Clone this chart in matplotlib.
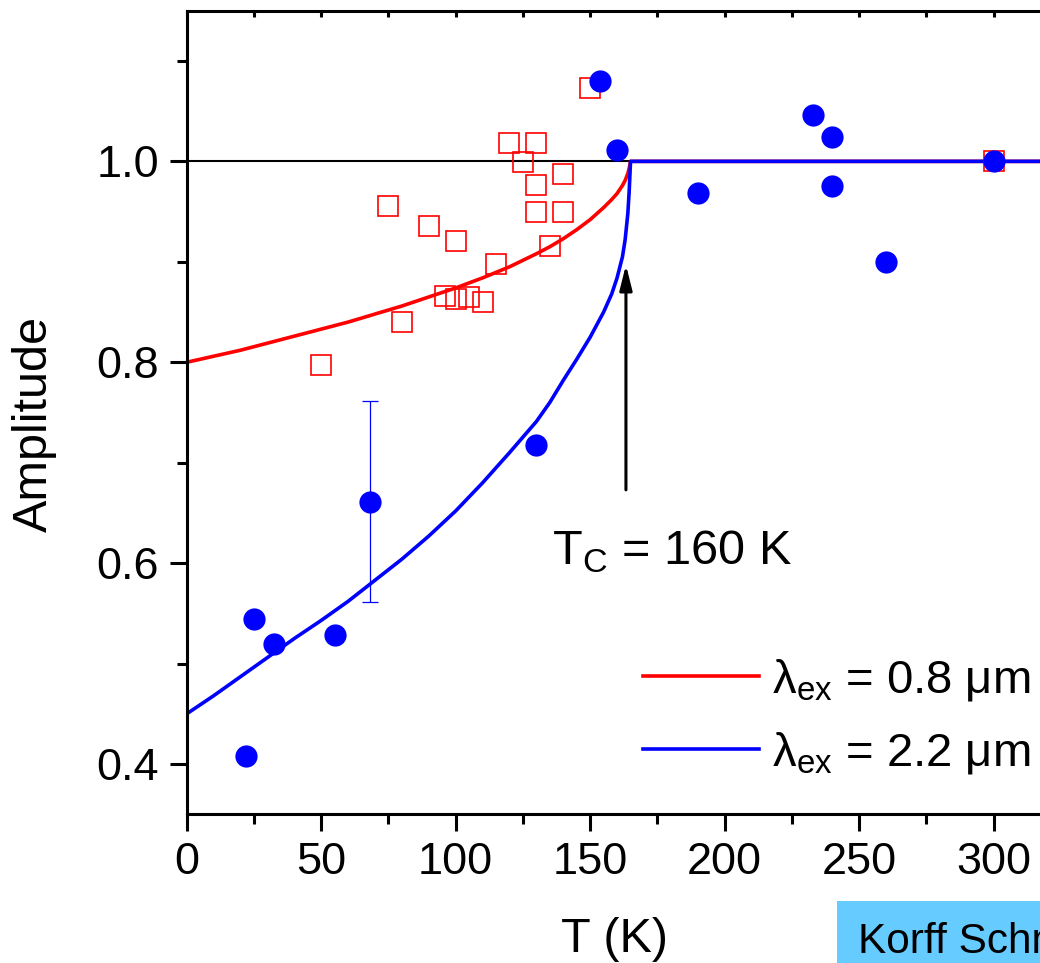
import numpy as np
import matplotlib
matplotlib.use("Agg")
import matplotlib.pyplot as plt
from matplotlib.ticker import MultipleLocator, FormatStrFormatter

plt.rcParams["font.family"] = ["Liberation Sans", "DejaVu Sans"]
plt.rcParams["mathtext.fontset"] = "custom"
plt.rcParams["mathtext.rm"] = "Liberation Sans"

BLUE = "#0000ff"
RED = "#ff0000"
BOX = "#66ccff"

# measured points, lambda_ex = 2.2 um (filled circles)
blue_T = [22, 25, 32.5, 55, 68, 130, 153.5, 160, 190, 233, 240, 240, 260, 300]
blue_A = [0.408, 0.544, 0.520, 0.529, 0.661, 0.718, 1.080, 1.011, 0.969,
          1.046, 1.024, 0.975, 0.900, 1.000]
blue_err = [0, 0, 0, 0, 0.1, 0, 0, 0, 0, 0, 0, 0, 0, 0]

# measured points, lambda_ex = 0.8 um (open squares)
red_T = [50, 75, 80, 90, 96, 100, 100, 105, 110, 115, 120, 125, 130, 130,
         130, 135, 140, 140, 150, 300]
red_A = [0.797, 0.956, 0.840, 0.936, 0.866, 0.921, 0.863, 0.865, 0.860,
         0.898, 1.018, 0.999, 1.018, 0.976, 0.950, 0.916, 0.987, 0.950,
         1.073, 1.000]

# fit curves
fit_T = [0, 10, 20, 30, 40, 50, 60, 70, 80, 90, 100, 110, 120, 130, 135,
         140, 145, 150, 155, 158, 160, 162, 163, 164, 164.5, 165, 340]
red_fit_A = [0.800, 0.806, 0.812, 0.819, 0.826, 0.833, 0.840, 0.848, 0.856,
             0.865, 0.874, 0.884, 0.895, 0.908, 0.915, 0.923, 0.932, 0.942,
             0.954, 0.962, 0.968, 0.976, 0.981, 0.988, 0.993, 1.0, 1.0]
blue_fit_A = [0.450, 0.468, 0.487, 0.506, 0.525, 0.543, 0.562, 0.583, 0.604,
              0.627, 0.652, 0.680, 0.710, 0.741, 0.760, 0.782, 0.803, 0.825,
              0.850, 0.868, 0.884, 0.905, 0.922, 0.948, 0.970, 1.0, 1.0]

labels = [r"λ$_{\mathregular{ex}}$ = 0.8 μm", r"λ$_{\mathregular{ex}}$ = 2.2 μm"]

fig = plt.figure(figsize=(10.4, 9.63), dpi=100)
# axes run off the right edge of the picture, as in the reference
ax = fig.add_axes([0.1795, 0.1544, 0.8794, 0.8345])

ax.axhline(1.0, color="black", lw=1.5, zorder=1)
l_red, = ax.plot(fit_T, red_fit_A, color=RED, lw=2.6, zorder=2)
l_blue, = ax.plot(fit_T, blue_fit_A, color=BLUE, lw=2.6, zorder=2.5)

ax.plot(red_T, red_A, ls="none", marker="s", ms=15, mfc="none", mec=RED,
        mew=1.2, zorder=3)

bT = np.array(blue_T)
bA = np.array(blue_A)
bE = np.array(blue_err)
m = bE > 0
ax.errorbar(bT[m], bA[m], yerr=bE[m], fmt="none", ecolor=BLUE, elinewidth=0.9,
            capsize=5.6, capthick=0.9, zorder=3.5)
ax.plot(bT, bA, ls="none", marker="o", ms=16, mfc=BLUE, mec=BLUE, mew=0,
        zorder=4)

ax.annotate("", xy=(163.3, 0.897), xytext=(163.3, 0.673),
            arrowprops=dict(arrowstyle="-|>,head_length=0.6,head_width=0.15",
                            mutation_scale=25, lw=2.2, color="black",
                            shrinkA=0, shrinkB=0))
ax.text(135.7, 0.598, r"T$_{\mathregular{C}}$ = 160 K", fontsize=35,
        ha="left", va="baseline")

ax.set_xlim(0, 340)
ax.set_ylim(0.35, 1.15)
ax.xaxis.set_major_locator(MultipleLocator(50))
ax.xaxis.set_minor_locator(MultipleLocator(25))
ax.yaxis.set_major_locator(MultipleLocator(0.2))
ax.yaxis.set_minor_locator(MultipleLocator(0.1))
ax.yaxis.set_major_formatter(FormatStrFormatter("%.1f"))

for s in ax.spines.values():
    s.set_linewidth(2.2)
ax.tick_params(which="both", direction="out", width=2.2, labelsize=32.5,
               top=False, right=False)
ax.tick_params(which="major", length=12, pad=8)
ax.tick_params(which="minor", length=7)

sec = ax.secondary_xaxis("top")
sec.xaxis.set_major_locator(MultipleLocator(25))
sec.tick_params(direction="in", length=4, width=2.2, labeltop=False)

ax.set_xlabel("T (K)", fontsize=35)
ax.set_ylabel("Amplitude", fontsize=35)
ax.xaxis.set_label_coords(0.468, -0.128)
ax.yaxis.set_label_coords(-0.142, 0.486)

ax.legend([l_red, l_blue], labels, loc="center left",
          bbox_to_anchor=(643 / 1040, 1 - 716.5 / 963),
          bbox_transform=fig.transFigure, frameon=False, fontsize=34,
          handlelength=2.45, handletextpad=0.28, labelspacing=0.58,
          borderpad=0, borderaxespad=0)

fig.text(858 / 1040, 10 / 963, "Korff Schmising", fontsize=30.5, ha="left",
         va="baseline",
         bbox=dict(facecolor=BOX, edgecolor="none", pad=15))

fig.savefig("out.png", dpi=100)
